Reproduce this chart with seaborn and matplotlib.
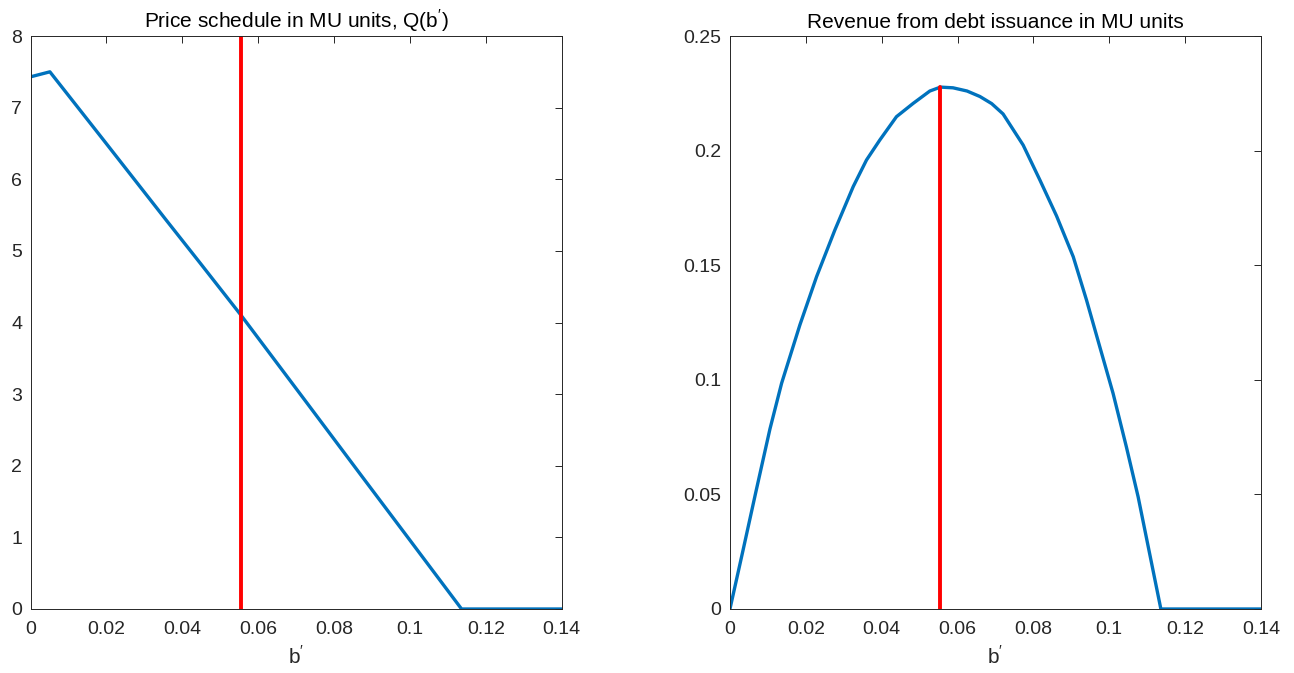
import numpy as np
import pandas as pd
import matplotlib
matplotlib.use("Agg")
import matplotlib.pyplot as plt
from matplotlib.ticker import FormatStrFormatter
import seaborn as sns

# values
b_price = [0, 0.0051, 0.0192, 0.0359, 0.0447, 0.0555, 0.0728, 0.0868, 0.1000, 0.1136, 0.14]
q_price = [7.43, 7.50, 6.55, 5.42, 4.83, 4.10, 2.88, 1.89, 0.96, 0.0, 0.0]

b_rev = [0, 0.0035, 0.00685, 0.01054, 0.01362, 0.01845, 0.02284, 0.02767, 0.0325, 0.0360,
         0.0395, 0.0439, 0.0483, 0.0527, 0.0555, 0.0588, 0.0625, 0.0659, 0.0690, 0.0720,
         0.0773, 0.0817, 0.0861, 0.0905, 0.0940, 0.0975, 0.1010, 0.1045, 0.1076, 0.1136, 0.14]
revenue = [0, 0.026, 0.0512, 0.0785, 0.0985, 0.1240, 0.1450, 0.1654, 0.1843, 0.1959,
           0.2046, 0.2148, 0.2206, 0.2260, 0.2277, 0.2274, 0.2260, 0.2236, 0.2205, 0.2160,
           0.2024, 0.1872, 0.1715, 0.1537, 0.1348, 0.1144, 0.0941, 0.0708, 0.0490, 0.0, 0.0]

b_star = 0.0555
rev_star = 0.2277

x_ticks = [0, 0.02, 0.04, 0.06, 0.08, 0.1, 0.12, 0.14]
q_ticks = [0, 1, 2, 3, 4, 5, 6, 7, 8]
rev_ticks = [0, 0.05, 0.1, 0.15, 0.2, 0.25]

sns.set_style("white")
plt.rcParams['font.family'] = ['Liberation Sans', 'DejaVu Sans']
plt.rcParams['mathtext.fontset'] = 'custom'
plt.rcParams['mathtext.rm'] = 'Liberation Sans'

blue = "#0072BD"
red = "#FF0000"
axis_col = "#262626"

fig = plt.figure(figsize=(12.94, 6.73), dpi=100)
ax1 = fig.add_axes([0.0236, 0.0951, 0.4105, 0.8514])
ax2 = fig.add_axes([0.5641, 0.0951, 0.4104, 0.8514])

price_df = pd.DataFrame({"b": b_price, "q": q_price})
rev_df = pd.DataFrame({"b": b_rev, "r": revenue})

sns.lineplot(data=price_df, x="b", y="q", ax=ax1, color=blue, linewidth=2.4)
ax1.axvline(b_star, color=red, linewidth=2.8)

sns.lineplot(data=rev_df, x="b", y="r", ax=ax2, color=blue, linewidth=2.4)
ax2.plot([b_star, b_star], [0, rev_star], color=red, linewidth=2.8)


def style_axes(ax, yticks, ylim, title):
    ax.set_xlim(0, 0.14)
    ax.set_ylim(*ylim)
    ax.set_xticks(x_ticks)
    ax.set_yticks(yticks)
    ax.xaxis.set_major_formatter(FormatStrFormatter('%g'))
    ax.yaxis.set_major_formatter(FormatStrFormatter('%g'))
    ax.tick_params(direction='in', length=5, width=0.7, colors=axis_col,
                   labelsize=14, top=True, right=True, pad=6)
    ax.tick_params(axis='x', pad=9)
    for s in ax.spines.values():
        s.set_visible(True)
        s.set_color(axis_col)
        s.set_linewidth(0.7)
    ax.set_xlabel("b$^{\\prime}$", fontsize=15, color=axis_col, labelpad=5)
    ax.set_ylabel("")
    ax.set_title(title, fontsize=15, color="black", pad=6)


style_axes(ax1, q_ticks, (0, 8), "Price schedule in MU units, Q(b$^{\\prime}$)")
style_axes(ax2, rev_ticks, (0, 0.25), "Revenue from debt issuance in MU units")

fig.savefig("out.png", dpi=100)
